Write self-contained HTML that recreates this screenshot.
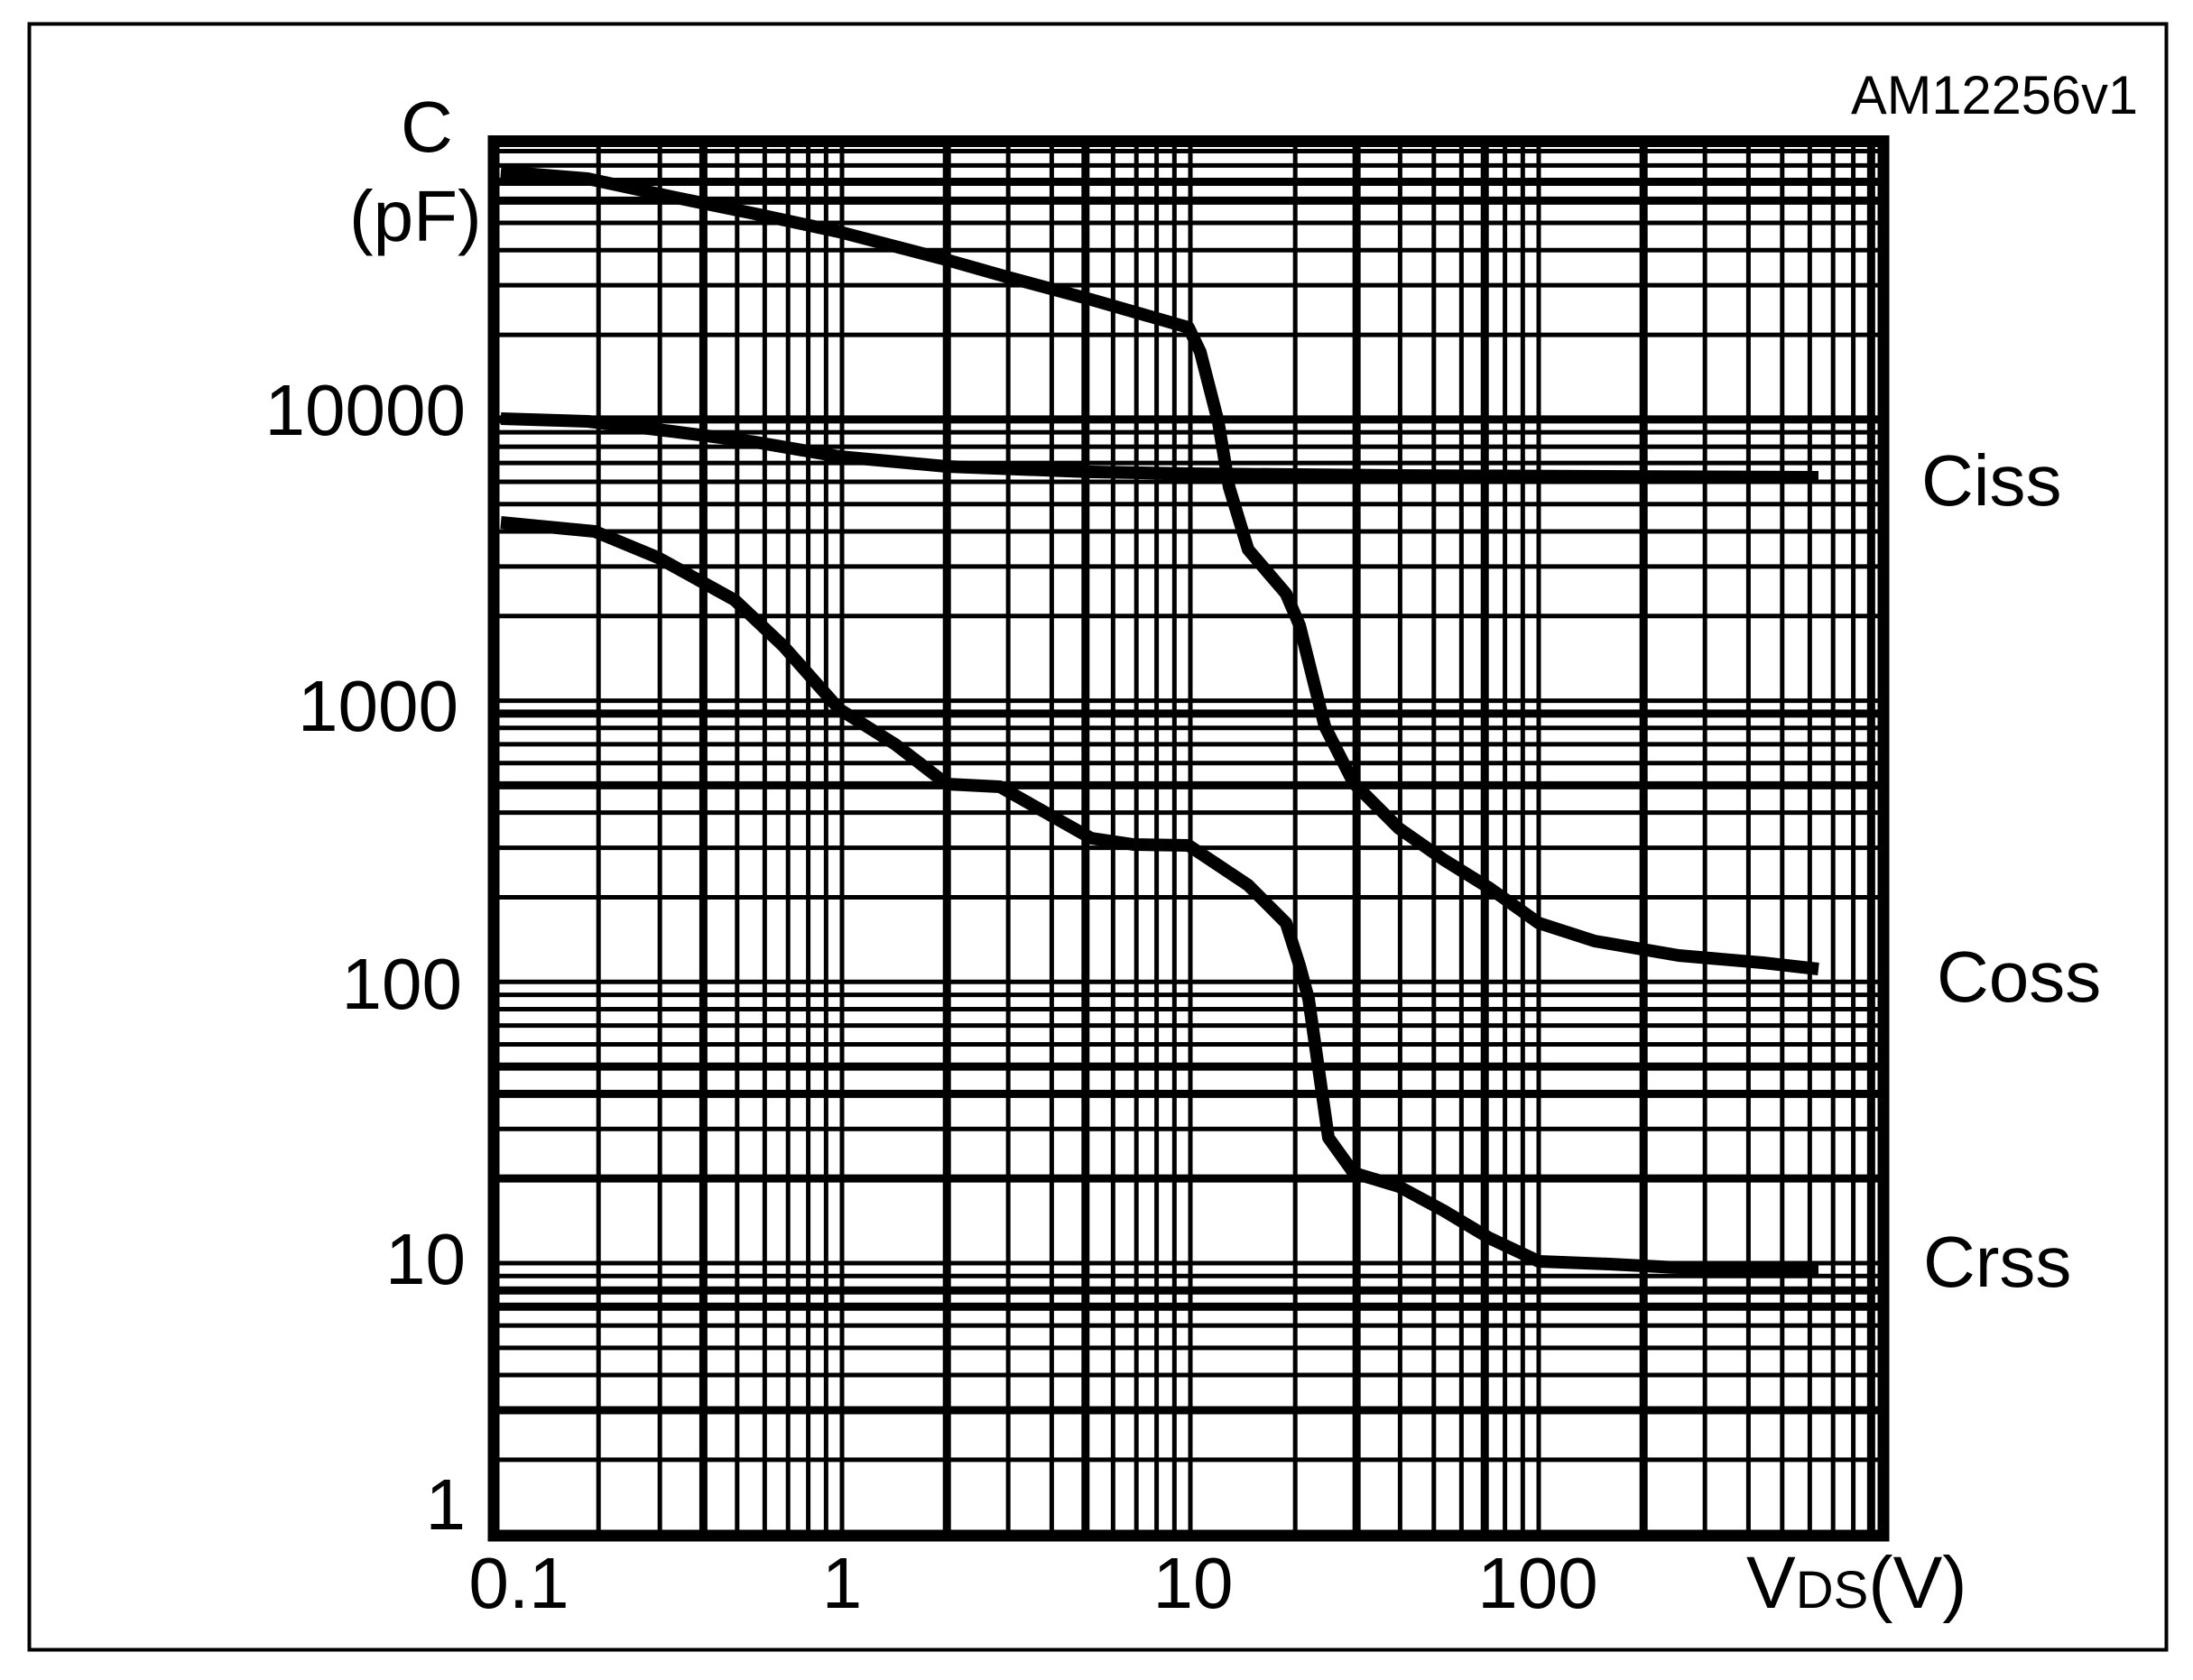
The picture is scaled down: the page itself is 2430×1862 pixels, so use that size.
<!DOCTYPE html>
<html><head><meta charset="utf-8"><style>
html,body{margin:0;padding:0;background:#fff;}
svg{display:block;}
text{font-family:"Liberation Sans",Arial,sans-serif;fill:#000;}
</style></head><body>
<svg id="s" width="2430" height="1862" viewBox="0 0 2430 1862" xmlns="http://www.w3.org/2000/svg">
<rect x="32.5" y="26.5" width="2368" height="1802" fill="none" stroke="#000" stroke-width="4"/>
<g id="grid"></g>
<rect x="547" y="156.5" width="1540" height="1545.5" fill="none" stroke="#000" stroke-width="13"/>
<g fill="none" stroke="#000" stroke-width="14" stroke-linejoin="round" stroke-linecap="butt">
<polyline points="555,190 651,198 744,218 837,237 930,257 1049,288 1116,307 1209,332 1317,363 1330,390 1350,468 1362,540 1383,609 1425,658 1440,693 1468,805 1500,868 1550,918 1600,953 1650,984 1705,1023 1767,1043 1860,1059 1953,1067 2015,1074"/>
<polyline points="555,464 651,467 744,478 837,490 930,506 1049,517 1209,523 1317,525 1550,527 2015,529"/>
<polyline points="555,579 659,589 729,618 814,665 868,716 930,786 992,825 1049,869 1108,872 1209,929 1256,936 1317,937 1383,981 1425,1023 1440,1070 1450,1107 1465,1212 1472,1261 1500,1300 1550,1315 1600,1342 1650,1372 1705,1398 1783,1401 1860,1405 2015,1405"/>
</g>
<text x="2051" y="126" font-size="60" textLength="318" lengthAdjust="spacingAndGlyphs">AM12256v1</text>
<text x="444" y="168" font-size="80">C</text>
<text x="387" y="267" font-size="80">(pF)</text>
<g font-size="80" text-anchor="end">
<text x="516" y="482">10000</text>
<text x="508" y="810">1000</text>
<text x="512" y="1118">100</text>
<text x="516" y="1423">10</text>
<text x="516" y="1695">1</text>
</g>
<g font-size="80" text-anchor="middle">
<text x="575" y="1782">0.1</text>
<text x="933" y="1782">1</text>
<text x="1322" y="1782">10</text>
<text x="1704" y="1782">100</text>
</g>
<text x="1935" y="1782" font-size="82">V<tspan font-size="58">DS</tspan>(V)</text>
<g font-size="80">
<text x="2129" y="560">Ciss</text>
<text x="2146" y="1110">Coss</text>
<text x="2131" y="1426">Crss</text>
</g>
</svg>
<script>
(function(){
var g=document.getElementById('grid'),ns='http://www.w3.org/2000/svg';
function ln(x1,y1,x2,y2,w){var l=document.createElementNS(ns,'line');l.setAttribute('x1',x1);l.setAttribute('y1',y1);l.setAttribute('x2',x2);l.setAttribute('y2',y2);l.setAttribute('stroke','#000');l.setAttribute('stroke-width',w);g.appendChild(l);}
var thickX=[0.4,2,5,30,70,200,900];
for(var d=-1;d<3;d++){for(var m=1;m<10;m++){var v=m*Math.pow(10,d);if(d==-1&&m==1)continue;var x=547+386*(Math.log10(v)+1);if(x>2085)continue;var th=thickX.some(function(t){return Math.abs(t-v)<1e-6;});ln(x,157,x,1702,th?9:5);}}
var thickY=[3,7,8,20,40,50,500,900,10000,60000,70000];
for(var d=0;d<5;d++){for(var m=1;m<10;m++){var v=m*Math.pow(10,d);if(d==0&&m==1)continue;var y=1400-311.7*(Math.log10(v)-1);if(y<160||y>1700)continue;var th=thickY.some(function(t){return Math.abs(t-v)<1e-6;});ln(547,y,2087,y,th?9:5);}}
})();
</script>
</body></html>
